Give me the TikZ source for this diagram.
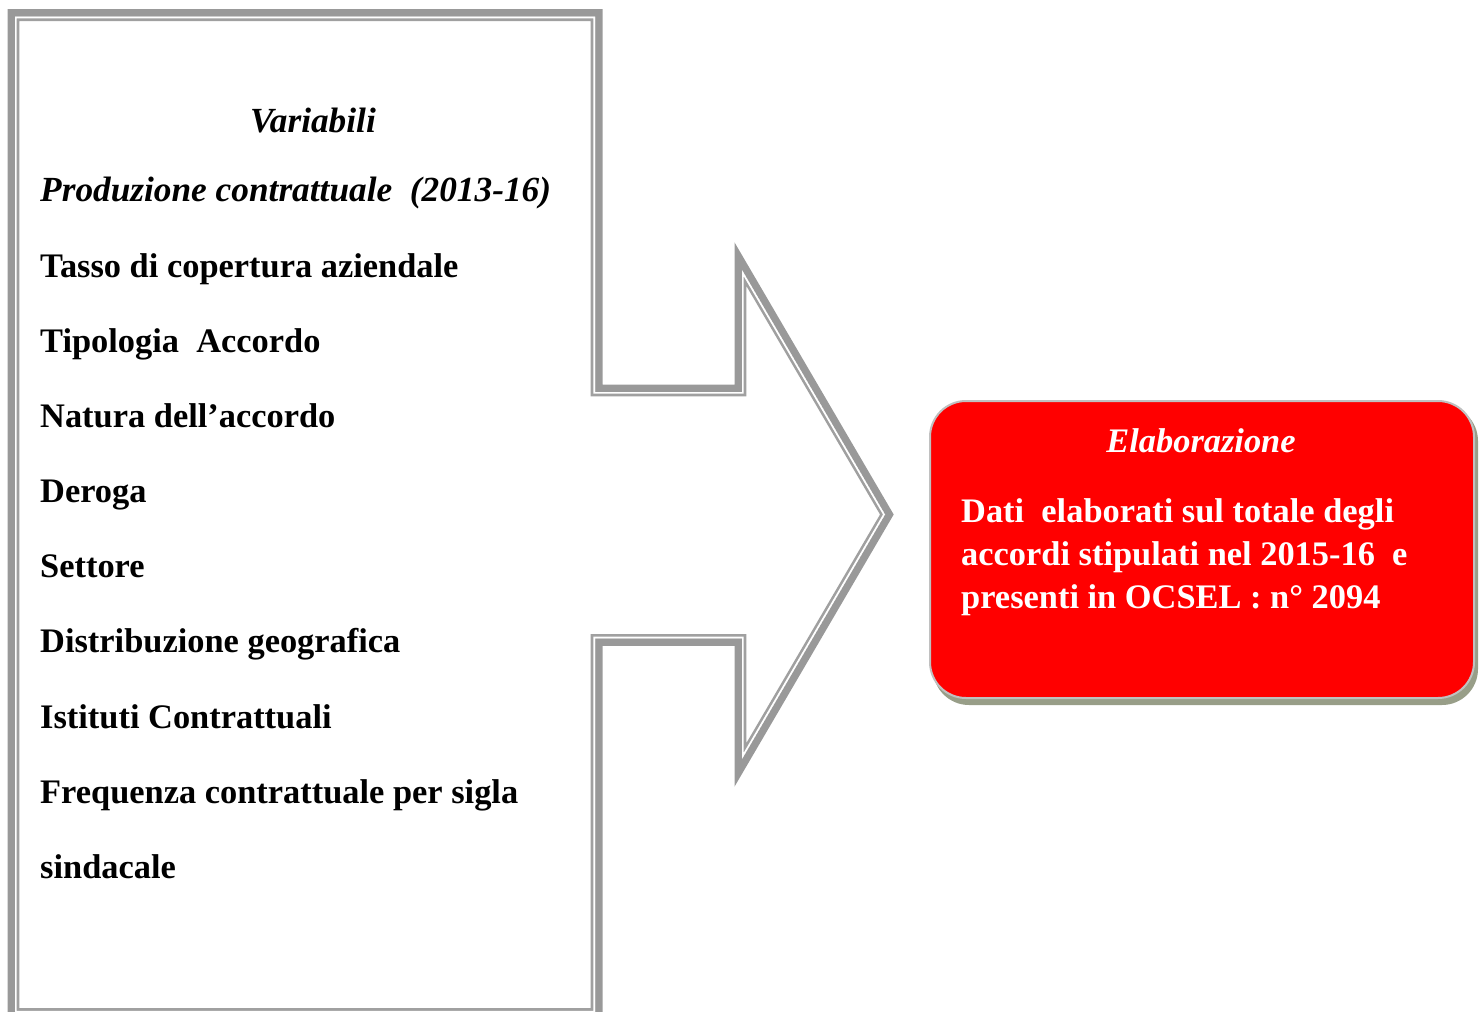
\documentclass[tikz,border=0pt]{standalone}
\usepackage{fontspec}
\setmainfont{Liberation Serif}
\definecolor{framegray}{RGB}{153,153,153}
\definecolor{thingray}{RGB}{160,160,160}
\definecolor{boxred}{RGB}{255,0,0}
\definecolor{shadowol}{RGB}{152,158,136}
\definecolor{boxedge}{RGB}{192,192,192}
\begin{document}
\begin{tikzpicture}[x=1pt,y=-1pt,
  lbl/.style={anchor=base west, inner sep=0pt, font=\fontsize{34.4}{40}\selectfont\bfseries},
  ttl/.style={anchor=base, inner sep=0pt, font=\fontsize{34.4}{40}\selectfont\bfseries\itshape},
  ilbl/.style={anchor=base west, inner sep=0pt, font=\fontsize{35.3}{40}\selectfont\bfseries\itshape},
  wlbl/.style={lbl, text=white},
  wttl/.style={ttl, text=white},
  redbox/.style={draw=boxedge, line width=2pt, fill=boxred, rounded corners=36pt, inner sep=0pt}]
\useasboundingbox (0,0) rectangle (1481,1012);
\clip (0,0) rectangle (1481,1012);
\def\framepath{(15,16.7) -- (595,16.7) -- (595,392) -- (742,392) -- (742,270) -- (885,514.5) -- (742,759) -- (742,638.3) -- (595,638.3) -- (595,1012.5) -- (15,1012.5) -- cycle}
% outer thick band
\draw[framegray, line width=15pt, line join=miter] \framepath;
\begin{scope}
  \clip \framepath;
  \fill[white] \framepath;
  \draw[thingray, line width=8.6pt, line join=miter] \framepath;
  \draw[white, line width=3.4pt, line join=miter] \framepath;
\end{scope}
% left texts
\node[ttl, font=\fontsize{35.3}{40}\selectfont\bfseries\itshape] (var) at (313,132) {Variabili};
\node[ilbl] (prod) at (40,201) {Produzione contrattuale\ \ (2013-16)};
\node[lbl] (l1) at (40,277) {Tasso di copertura aziendale};
\node[lbl] (l2) at (40,352) {Tipologia\ \ Accordo};
\node[lbl] (l3) at (40,427) {Natura dell’accordo};
\node[lbl] (l4) at (40,502) {Deroga};
\node[lbl] (l5) at (40,577) {Settore};
\node[lbl] (l6) at (40,652) {Distribuzione geografica};
\node[lbl] (l7) at (40,728) {Istituti Contrattuali};
\node[lbl] (l8) at (40,803) {Frequenza contrattuale per sigla};
\node[lbl] (l9) at (40,878) {sindacale};
% red box
\fill[shadowol, rounded corners=36pt] (933,405) rectangle (1478,705);
\node[redbox, minimum width=544pt, minimum height=297pt] (elab) at (1202,549.5) {};
\node[wttl] (etitle) at (1201,452) {Elaborazione};
\node[wlbl] (r1) at (961,522) {Dati\ \ elaborati sul totale degli};
\node[wlbl] (r2) at (961,565) {accordi stipulati nel 2015-16\ \ e};
\node[wlbl] (r3) at (961,608) {presenti in OCSEL : n° 2094};
\end{tikzpicture}
\end{document}
